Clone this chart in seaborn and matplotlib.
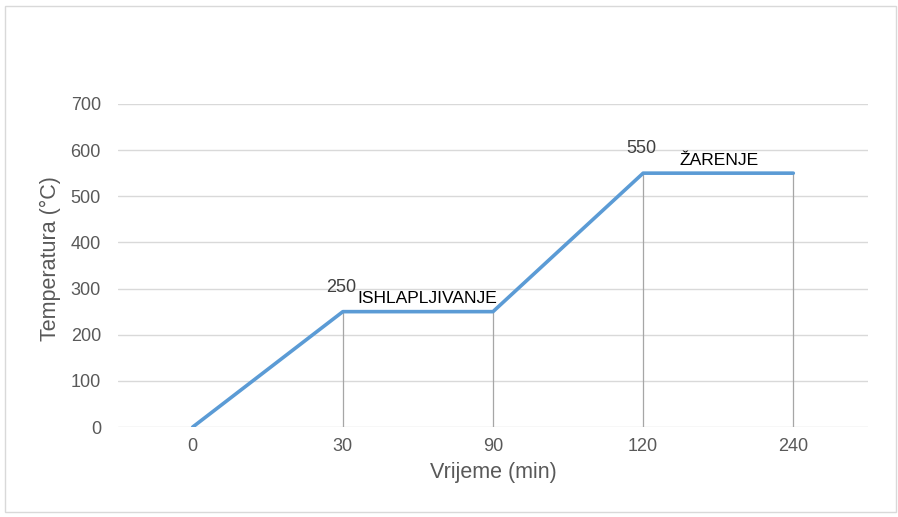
import pandas as pd
import seaborn as sns
import matplotlib.pyplot as plt
from matplotlib.patches import Rectangle

# data
vrijeme = ['0', '30', '90', '120', '240']
temperatura = [0, 250, 250, 550, 550]
faze = ['ISHLAPLJIVANJE', 'ŽARENJE']

df = pd.DataFrame({'Vrijeme': vrijeme, 'Temperatura': temperatura})
df['pos'] = range(len(df))

sns.set_style('white')
plt.rcParams['font.family'] = ['Liberation Sans', 'DejaVu Sans']

fig = plt.figure(figsize=(8.98, 5.17), dpi=100)
ax = fig.add_axes([0.131, 0.174, 0.836, 0.625])

# light frame around the chart
fig.patches.append(Rectangle((0.006, 0.01), 0.992, 0.978, transform=fig.transFigure,
                             fill=False, edgecolor='#d9d9d9', linewidth=1))

# drop lines from each point down to the axis
ax.vlines(df['pos'][1:], 0, df['Temperatura'][1:], color='#a6a6a6', linewidth=0.9, zorder=2)

sns.lineplot(data=df, x='pos', y='Temperatura', color='#5b9bd5', linewidth=2.6, ax=ax, zorder=3)

ax.set_xlim(-0.5, len(df) - 0.5)
ax.set_ylim(0, 700)
ax.set_yticks(range(0, 701, 100))
ax.set_xticks(df['pos'])
ax.set_xticklabels(df['Vrijeme'])
ax.yaxis.grid(True, color='#d9d9d9', linewidth=1)
ax.set_axisbelow(True)
for s in ax.spines.values():
    s.set_visible(False)
ax.tick_params(axis='both', length=0, labelsize=13, labelcolor='#595959')
ax.tick_params(axis='x', pad=8)
ax.tick_params(axis='y', pad=12)

ax.set_xlabel('Vrijeme (min)', fontsize=15.5, color='#595959', va='center')
ax.set_ylabel('Temperatura (°C)', fontsize=15.5, color='#595959', va='center')
ax.xaxis.set_label_coords(0.5, -0.142)
ax.yaxis.set_label_coords(-0.089, 0.52)

# value labels and phase names
for i in [1, 3]:
    y = df['Temperatura'][i]
    ax.annotate(str(y), (i, y), xytext=(-1, 17.5), textcoords='offset points',
                ha='center', va='center', fontsize=13, color='#404040')
for i, f, dx, dy in zip([1, 3], faze, [10.5, 26.5], [6.5, 6]):
    y = df['Temperatura'][i]
    ax.annotate(f, (i, y), xytext=(dx, dy), textcoords='offset points',
                ha='left', va='baseline', fontsize=12.6, color='black')

plt.savefig('out.png', dpi=100)
